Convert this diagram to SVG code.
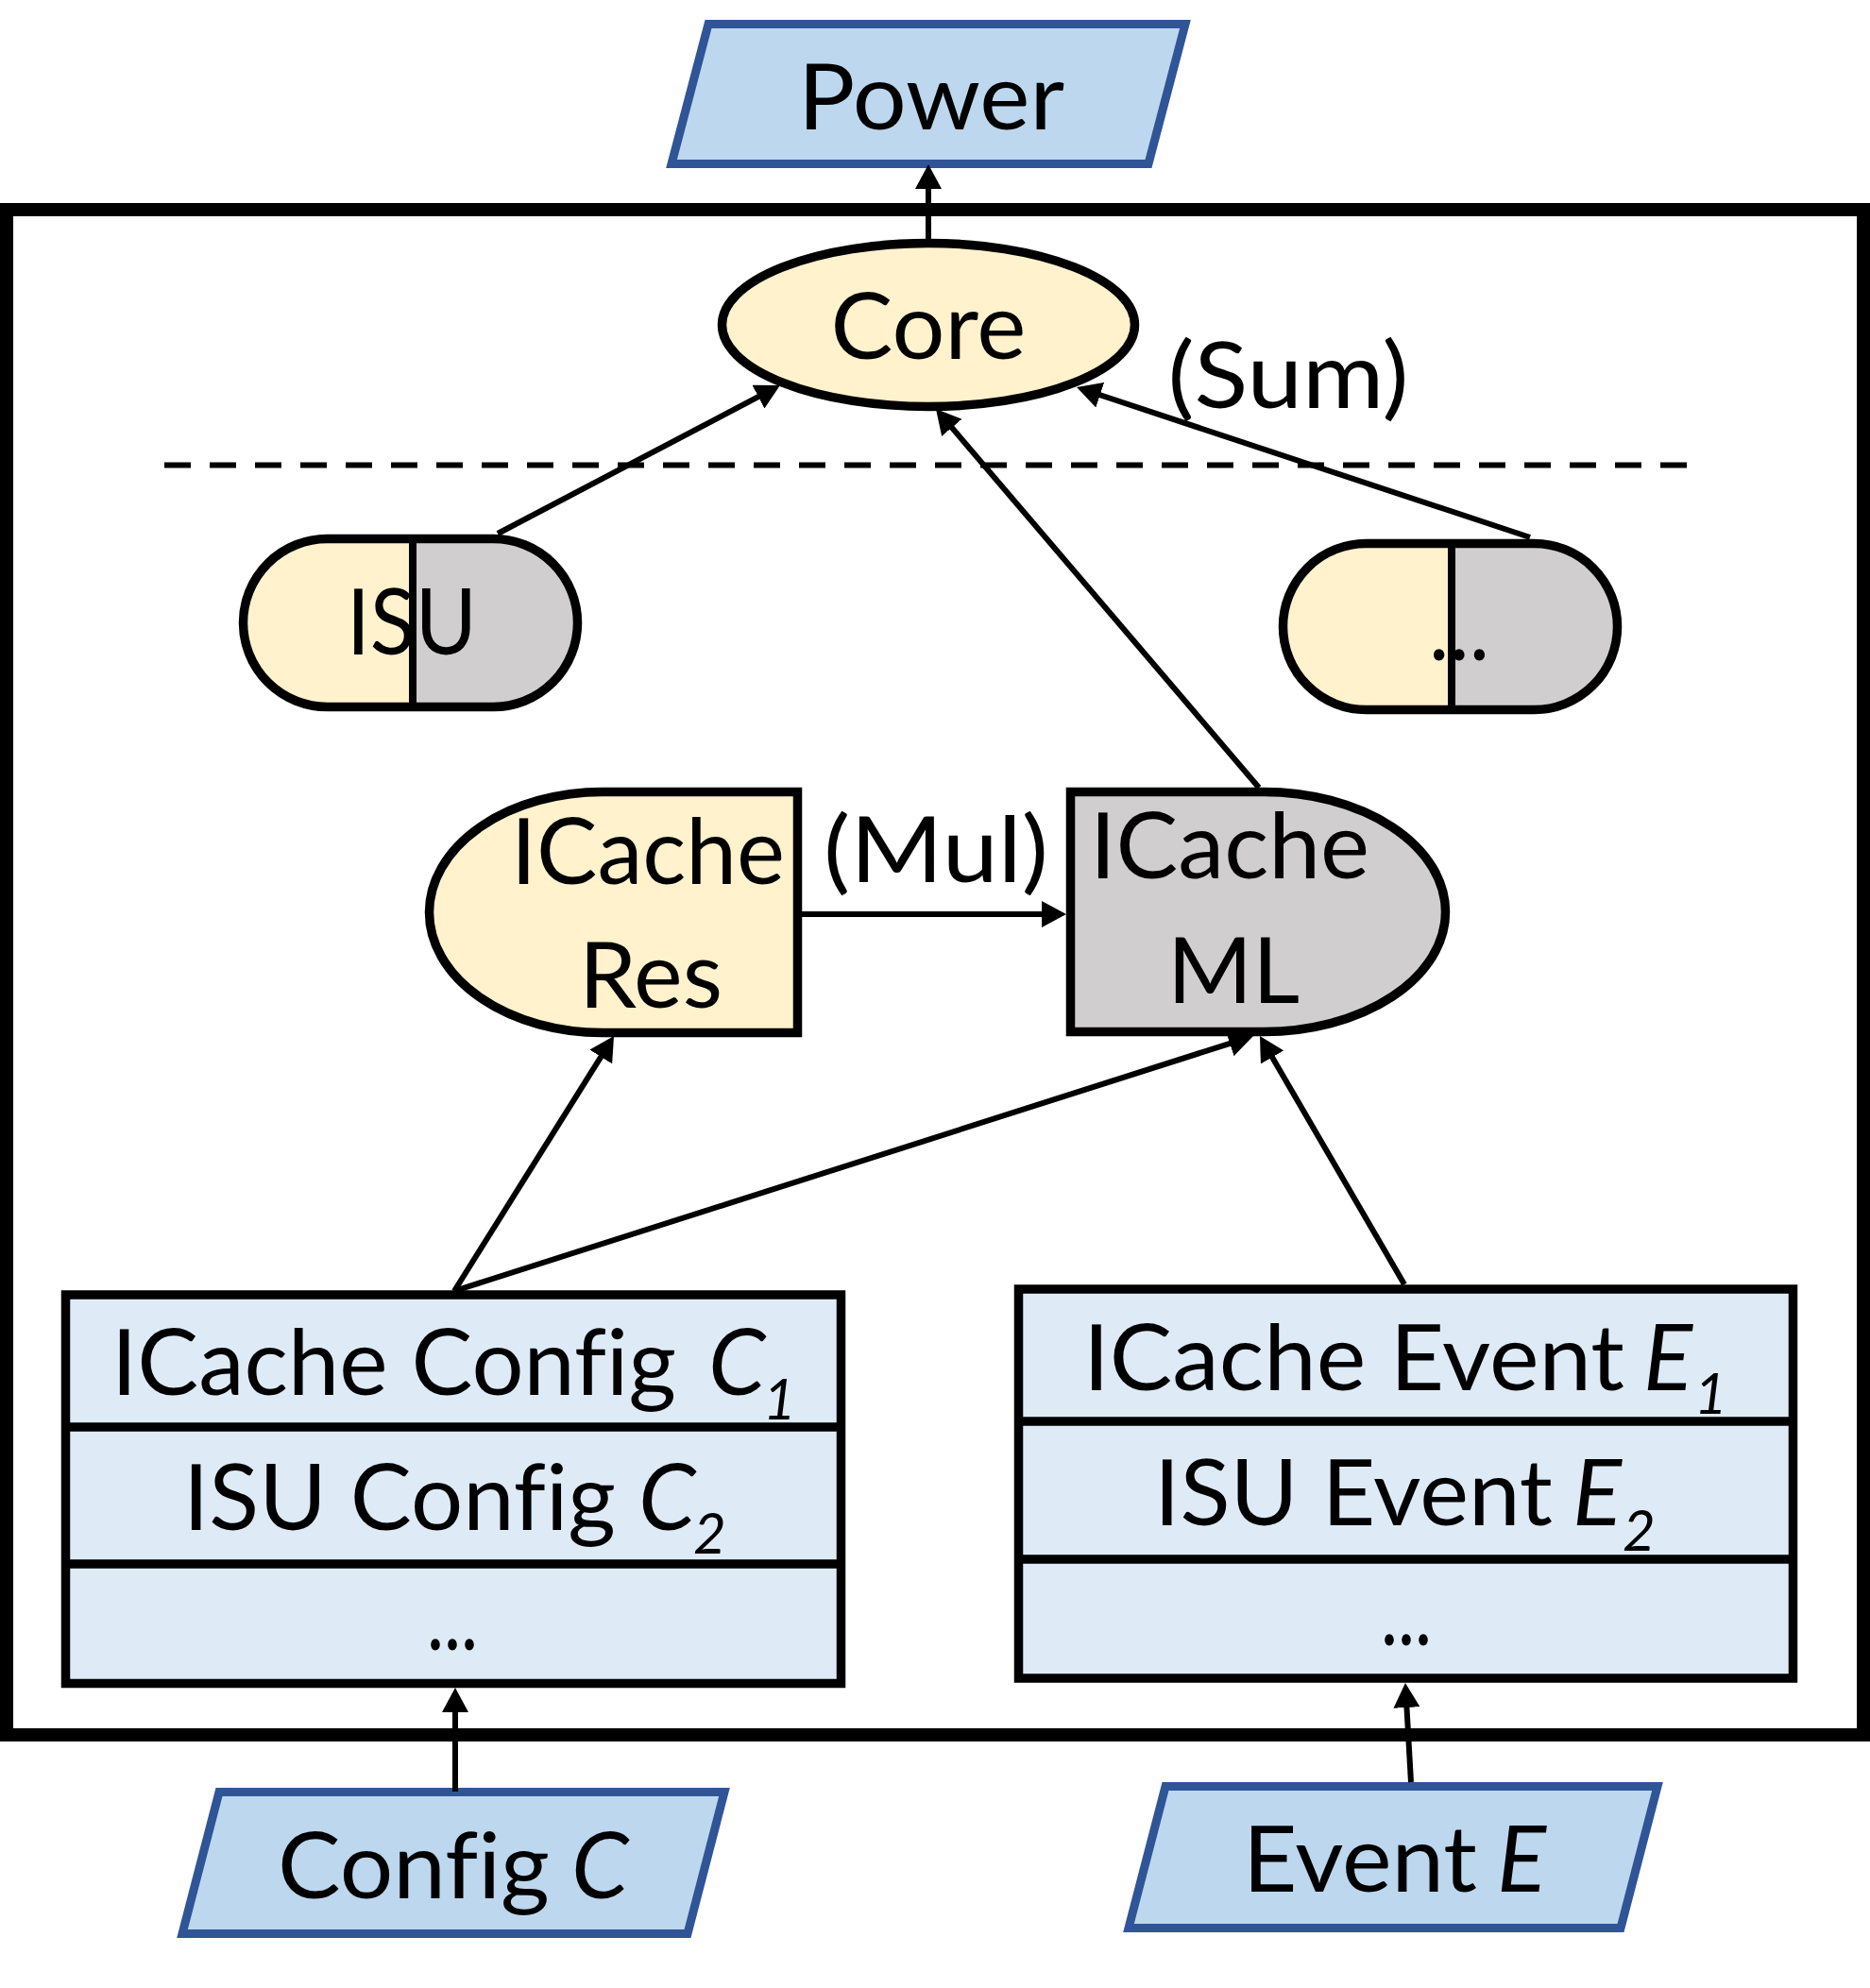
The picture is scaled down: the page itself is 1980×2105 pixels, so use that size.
<svg xmlns="http://www.w3.org/2000/svg" width="1980" height="2105" viewBox="0 0 1980 2105">
  <style>
    .t { font-family: Lato, "Open Sans", "Liberation Sans", sans-serif; font-size: 97px; fill: #000; font-variant-ligatures: none; font-feature-settings: "liga" 0; }
    .c { text-anchor: middle; }
    .it { font-style: italic; }
    .sub { font-size: 60px; font-style: italic; }
    .yel { fill: #FFF2CC; }
    .gry { fill: #D0CECE; }
    .ol { fill: none; stroke: #000; stroke-width: 9.5; }
    .para { fill: #BDD7EE; stroke: #2F5597; stroke-width: 9; stroke-linejoin: miter; }
    .stack { fill: #DEEBF7; stroke: #000; stroke-width: 9.5; }
    .div { stroke: #000; stroke-width: 9.5; }
    .edge { stroke: #000; stroke-width: 6; fill: none; marker-end: url(#arrow); }
  </style>
  <defs>
    <marker id="arrow" markerUnits="userSpaceOnUse" markerWidth="28" markerHeight="28" refX="15" refY="14" orient="auto">
      <path d="M0,0 L26,14 L0,28 Z" fill="#000"/>
    </marker>
  </defs>

  <rect id="frame" x="7" y="222" width="1966" height="1615" fill="none" stroke="#000" stroke-width="14"/>
  <line id="divider" x1="174" y1="492.5" x2="1792" y2="492.5" stroke="#000" stroke-width="6" stroke-dasharray="28 20"/>

  <g id="power">
    <path class="para" d="M750,25.5 L1255,25.5 L1216,173.5 L711,173.5 Z"/>
    <text class="t c" x="986" y="137" textLength="282" lengthAdjust="spacingAndGlyphs">Power</text>
  </g>

  <g id="core">
    <ellipse class="yel" cx="983" cy="344" rx="218.5" ry="86.5"/>
    <ellipse class="ol" cx="983" cy="344" rx="218.5" ry="86.5"/>
    <text class="t c" x="983" y="380" textLength="207" lengthAdjust="spacingAndGlyphs">Core</text>
  </g>

  <g id="isu">
    <path class="yel" d="M437,570.5 H346.5 A89,89 0 0 0 346.5,748.5 H437 Z"/>
    <path class="gry" d="M437,570.5 H522.5 A89,89 0 0 1 522.5,748.5 H437 Z"/>
    <rect class="ol" x="257.5" y="570.5" width="354" height="178" rx="89" ry="89"/>
    <line x1="437" y1="570.5" x2="437" y2="748.5" stroke="#000" stroke-width="8"/>
    <text class="t c" x="436" y="693" textLength="138" lengthAdjust="spacingAndGlyphs">ISU</text>
  </g>

  <g id="other">
    <path class="yel" d="M1537,575.5 H1446.5 A88,88 0 0 0 1446.5,751.5 H1537 Z"/>
    <path class="gry" d="M1537,575.5 H1624.5 A88,88 0 0 1 1624.5,751.5 H1537 Z"/>
    <rect class="ol" x="1358.5" y="575.5" width="354" height="176" rx="88" ry="88"/>
    <line x1="1537" y1="575.5" x2="1537" y2="751.5" stroke="#000" stroke-width="8"/>
    <text class="t c" x="1545" y="699" textLength="64" lengthAdjust="spacingAndGlyphs">...</text>
  </g>

  <g id="icache-res">
    <path class="yel" d="M844.5,838.5 H638 A183.5,127.5 0 0 0 638,1093.5 H844.5 Z"/>
    <path class="ol" d="M844.5,838.5 H638 A183.5,127.5 0 0 0 638,1093.5 H844.5 Z"/>
    <text class="t c" x="686" y="936" textLength="290" lengthAdjust="spacingAndGlyphs">ICache</text>
    <text class="t c" x="689" y="1067" textLength="152" lengthAdjust="spacingAndGlyphs">Res</text>
  </g>

  <g id="icache-ml">
    <path class="gry" d="M1133.5,838.5 H1338 A192.5,127 0 0 1 1338,1092.5 H1133.5 Z"/>
    <path class="ol" d="M1133.5,838.5 H1338 A192.5,127 0 0 1 1338,1092.5 H1133.5 Z"/>
    <text class="t c" x="1302" y="930" textLength="296" lengthAdjust="spacingAndGlyphs">ICache</text>
    <text class="t c" x="1306" y="1062" textLength="140" lengthAdjust="spacingAndGlyphs">ML</text>
  </g>

  <g id="config-stack">
    <rect class="stack" x="69.5" y="1371" width="821" height="411.5"/>
    <line class="div" x1="69.5" y1="1511" x2="890.5" y2="1511"/>
    <line class="div" x1="69.5" y1="1656" x2="890.5" y2="1656"/>
    <text class="t" y="1477"><tspan x="118" textLength="598" lengthAdjust="spacingAndGlyphs">ICache Config</tspan><tspan class="it" x="750">C</tspan><tspan class="sub" x="808" y="1503">1</tspan></text>
    <text class="t" y="1620"><tspan x="194" textLength="458" lengthAdjust="spacingAndGlyphs">ISU Config</tspan><tspan class="it" x="676">C</tspan><tspan class="sub" x="734" y="1645">2</tspan></text>
    <text class="t c" x="479" y="1747" font-size="85" textLength="54" lengthAdjust="spacingAndGlyphs">...</text>
  </g>

  <g id="event-stack">
    <rect class="stack" x="1078.5" y="1365" width="820" height="412"/>
    <line class="div" x1="1078.5" y1="1505" x2="1898.5" y2="1505"/>
    <line class="div" x1="1078.5" y1="1651" x2="1898.5" y2="1651"/>
    <text class="t" y="1472"><tspan x="1147" textLength="573" lengthAdjust="spacingAndGlyphs">ICache Event</tspan><tspan class="it" x="1740">E</tspan><tspan class="sub" x="1794" y="1497">1</tspan></text>
    <text class="t" y="1615"><tspan x="1222" textLength="422" lengthAdjust="spacingAndGlyphs">ISU Event</tspan><tspan class="it" x="1665">E</tspan><tspan class="sub" x="1718" y="1642">2</tspan></text>
    <text class="t c" x="1489" y="1742" font-size="85" textLength="54" lengthAdjust="spacingAndGlyphs">...</text>
  </g>

  <g id="config-c">
    <path class="para" d="M232,1897.5 L767,1897.5 L728,2047.5 L193,2047.5 Z"/>
    <text class="t" y="2010"><tspan x="294" textLength="288" lengthAdjust="spacingAndGlyphs">Config</tspan><tspan class="it" x="605">C</tspan></text>
  </g>

  <g id="event-e">
    <path class="para" d="M1234,1891.5 L1755,1891.5 L1716,2041.5 L1195,2041.5 Z"/>
    <text class="t" y="2003"><tspan x="1316" textLength="248" lengthAdjust="spacingAndGlyphs">Event</tspan><tspan class="it" x="1585">E</tspan></text>
  </g>

  <g id="labels">
    <text class="t c" x="1364" y="432" textLength="255" lengthAdjust="spacingAndGlyphs">(Sum)</text>
    <text class="t c" x="991" y="934" textLength="238" lengthAdjust="spacingAndGlyphs">(Mul)</text>
  </g>

  <g id="connectors">
    <line class="edge" x1="983" y1="253" x2="983" y2="185"/>
    <line class="edge" x1="527" y1="565" x2="816.2" y2="413.1"/>
    <line class="edge" x1="1620" y1="569" x2="1150.5" y2="413.5"/>
    <line class="edge" x1="1333" y1="834" x2="998.1" y2="441.4"/>
    <line class="edge" x1="849" y1="968" x2="1118" y2="968"/>
    <line class="edge" x1="481" y1="1367" x2="644.2" y2="1106.3"/>
    <line class="edge" x1="481" y1="1367" x2="1316.5" y2="1100.3"/>
    <line class="edge" x1="1487" y1="1360" x2="1339.5" y2="1106.5"/>
    <line class="edge" x1="482" y1="1897" x2="482" y2="1798"/>
    <line class="edge" x1="1494" y1="1887" x2="1488.6" y2="1793"/>
  </g>
</svg>
